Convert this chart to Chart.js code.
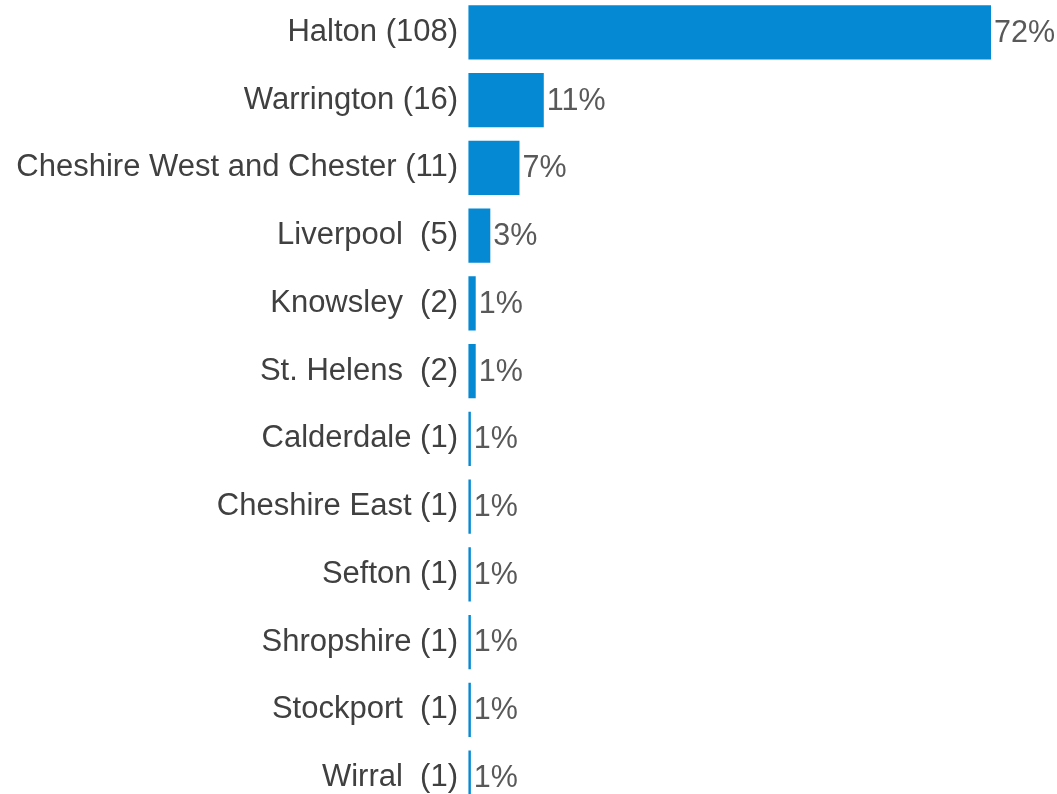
<!DOCTYPE html>
<html>
<head>
<meta charset="utf-8">
<script src="https://cdn.jsdelivr.net/npm/chart.js@4"></script>
<style>
  html, body { margin: 0; padding: 0; background: #fff; overflow: hidden; }
  #wrap { position: relative; width: 1057px; height: 866px; margin-top: -28px; }
</style>
</head>
<body>
<div id="wrap"><canvas id="areaChart"></canvas></div>
<script>
const areas = ['Halton (108)', 'Warrington (16)', 'Cheshire West and Chester (11)', 'Liverpool  (5)',
    'Knowsley  (2)', 'St. Helens  (2)', 'Calderdale (1)', 'Cheshire East (1)', 'Sefton (1)',
    'Shropshire (1)', 'Stockport  (1)', 'Wirral  (1)'];
const counts = [108, 16, 11, 5, 2, 2, 1, 1, 1, 1, 1, 1];
const percentLabels = ['72%', '11%', '7%', '3%', '1%', '1%', '1%', '1%', '1%', '1%', '1%', '1%'];

const fontFamily = '"Liberation Sans", Arial, sans-serif';

// draws the percentage next to each bar
const barLabels = {
    id: 'barLabels',
    afterDatasetsDraw(chart) {
        const ctx = chart.ctx;
        const meta = chart.getDatasetMeta(0);
        ctx.save();
        ctx.font = '30.5px ' + fontFamily;
        ctx.fillStyle = '#595959';
        ctx.textAlign = 'left';
        ctx.textBaseline = 'middle';
        meta.data.forEach((bar, i) => {
            ctx.fillText(percentLabels[i], bar.x + 3, bar.y + 1);
        });
        ctx.restore();
    }
};

const ctx = document.getElementById('areaChart').getContext('2d');
new Chart(ctx, {
    type: 'bar',
    data: {
        labels: areas,
        datasets: [{
            data: counts,
            base: 0.5,
            backgroundColor: '#0589D3',
            barPercentage: 0.8,
            categoryPercentage: 1
        }]
    },
    options: {
        indexAxis: 'y',
        responsive: true,
        maintainAspectRatio: false,
        animation: false,
        layout: { padding: { left: 0, right: 66, top: 0, bottom: 0 } },
        plugins: {
            legend: { display: false },
            tooltip: { enabled: false }
        },
        scales: {
            x: {
                min: 0,
                max: 108,
                display: false
            },
            y: {
                grid: { display: false, drawTicks: false },
                border: { display: false },
                ticks: {
                    color: '#404040',
                    padding: 8,
                    font: { family: fontFamily, size: 31 }
                },
                afterFit(scale) { scale.width = 466; }
            }
        }
    },
    plugins: [barLabels]
});
</script>
</body>
</html>
